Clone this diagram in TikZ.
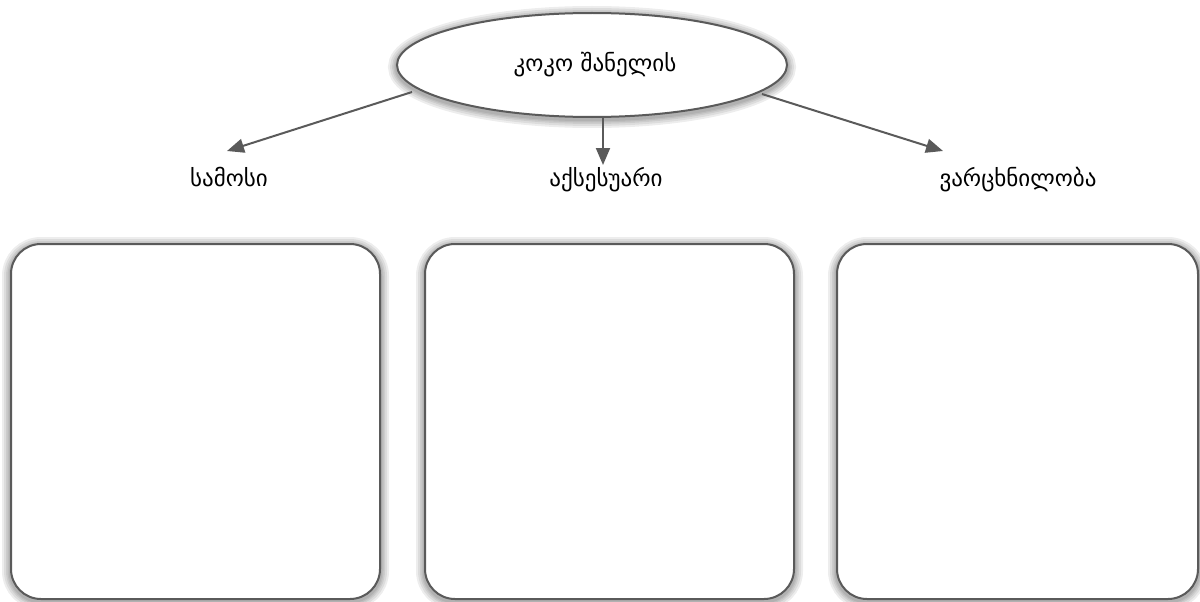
\documentclass[tikz,border=0pt]{standalone}
\usepackage{fontspec}
\newfontfamily\geo{DejaVu Sans}
\usetikzlibrary{shapes.geometric,arrows.meta}
\definecolor{edge}{HTML}{5A5A5A}
\tikzset{
  glowring/.style={preaction={draw=black, draw opacity=0.07, line width=#1, transform canvas={yshift=-2pt}}},
  softshadow/.style={glowring=18pt, glowring=14pt, glowring=10pt, glowring=7pt, glowring=4.5pt},
  panel/.style={draw=edge, line width=2pt, fill=white, rounded corners=30pt, softshadow},
  hub/.style={ellipse, draw=edge, line width=2pt, fill=white, minimum width=390pt, minimum height=104pt,
    inner sep=0pt, softshadow},
  lbl/.style={font=\geo\fontsize{23}{28}\selectfont, text=black, inner sep=0pt},
  link/.style={draw=edge, line width=2pt, -{Triangle[length=17pt,width=14pt]}}
}
\begin{document}
\begin{tikzpicture}[x=1pt,y=-1pt]
\useasboundingbox (0,0) rectangle (1200,602);
\node[hub] (root) at (592,65) {};
\node[lbl, anchor=base] (rt) at (595,72) {კოკო შანელის};
\node[lbl, anchor=base] (c1) at (229,186) {სამოსი};
\node[lbl, anchor=base] (c2) at (606,186) {აქსესუარი};
\node[lbl, anchor=base] (c3) at (1018,186) {ვარცხნილობა};
\coordinate (s1) at (412,92);
\coordinate (t1) at (227,151);
\coordinate (s2) at (603,117);
\coordinate (t2) at (603,165);
\coordinate (s3) at (762,94);
\coordinate (t3) at (943,151);
\draw[link] (s1) -- (t1);
\draw[link] (s2) -- (t2);
\draw[link] (s3) -- (t3);
\draw[panel] (11,244) rectangle (380,599);
\draw[panel] (425,244) rectangle (794,599);
\draw[panel] (837,244) rectangle (1198,599);
\end{tikzpicture}
\end{document}
